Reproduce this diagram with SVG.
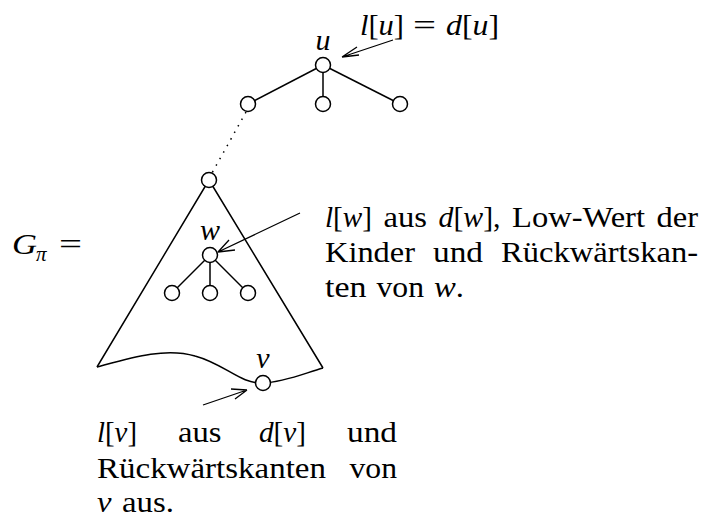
<svg xmlns="http://www.w3.org/2000/svg" width="705" height="519" viewBox="0 0 705 519">
<style>
text{font-family:"Liberation Serif","DejaVu Serif",serif;font-size:30px;fill:#000}
.i{font-style:italic}
.n{fill:#fff;stroke:#000;stroke-width:1.5}
.e{stroke:#000;stroke-width:1.5;fill:none}
.a{stroke:#000;stroke-width:1.3;fill:none}
</style>
<rect width="705" height="519" fill="#fff"/>
<g id="connectors">
<line class="e" x1="323" y1="65" x2="248" y2="104"/>
<line class="e" x1="323" y1="65" x2="323" y2="104"/>
<line class="e" x1="323" y1="65" x2="400" y2="104"/>
<line class="e" x1="246" y1="112" x2="212" y2="173" stroke-dasharray="1.5 6"/>
<line class="e" x1="210" y1="255" x2="172" y2="293"/>
<line class="e" x1="210" y1="255" x2="210" y2="293"/>
<line class="e" x1="210" y1="255" x2="248" y2="293"/>
<path class="e" d="M209 180 L97 367 M209 180 L323 368"/>
<path class="e" d="M97 367 C130 358,165 347,195 356 C225 364,240 384,263 383 C285 382,305 373,323 368"/>
<path class="a" d="M393 40 L342 57 M342 57 L357 47 M342 57 L359 55"/>
<path class="a" d="M300 213 L218 252 M218 252 L229 240 M218 252 L235 250"/>
<path class="a" d="M203 405 L247 390 M247 390 L231 389 M247 390 L235 399"/>
</g>
<g id="u"><circle class="n" cx="323" cy="65" r="7.5"/><text class="i" x="323" y="50" text-anchor="middle">u</text></g>
<g id="u1"><circle class="n" cx="248" cy="104" r="7.5"/></g>
<g id="u2"><circle class="n" cx="323" cy="104" r="7.5"/></g>
<g id="u3"><circle class="n" cx="400" cy="104" r="7.5"/></g>
<g id="top"><circle class="n" cx="209" cy="180" r="7.5"/></g>
<g id="w"><circle class="n" cx="210" cy="255" r="7.5"/><text class="i" x="210" y="240" text-anchor="middle">w</text></g>
<g id="w1"><circle class="n" cx="172" cy="293" r="7.5"/></g>
<g id="w2"><circle class="n" cx="210" cy="293" r="7.5"/></g>
<g id="w3"><circle class="n" cx="248" cy="293" r="7.5"/></g>
<g id="v"><circle class="n" cx="263" cy="383" r="7.5"/><text class="i" x="263" y="368" text-anchor="middle">v</text></g>
<g id="label-u">
<text x="360" y="35" textLength="44" lengthAdjust="spacingAndGlyphs"><tspan class="i">l</tspan>[<tspan class="i">u</tspan>]</text>
<text x="413" y="35" textLength="23" lengthAdjust="spacingAndGlyphs">=</text>
<text x="446" y="35" textLength="53" lengthAdjust="spacingAndGlyphs"><tspan class="i">d</tspan>[<tspan class="i">u</tspan>]</text>
</g>
<g id="label-G">
<text class="i" x="12" y="254" textLength="25" lengthAdjust="spacingAndGlyphs">G</text>
<text class="i" x="36" y="261" font-size="21" style="font-size:21px">π</text>
<text x="59" y="254" textLength="23" lengthAdjust="spacingAndGlyphs">=</text>
</g>
<g id="label-w">
<text x="325" y="227" textLength="47" lengthAdjust="spacingAndGlyphs"><tspan class="i">l</tspan>[<tspan class="i">w</tspan>]</text>
<text x="383.5" y="227" textLength="43.5" lengthAdjust="spacingAndGlyphs">aus</text>
<text x="438.5" y="227" textLength="62" lengthAdjust="spacingAndGlyphs"><tspan class="i">d</tspan>[<tspan class="i">w</tspan>],</text>
<text x="512" y="227" textLength="133" lengthAdjust="spacingAndGlyphs">Low-Wert</text>
<text x="656.5" y="227" textLength="41.5" lengthAdjust="spacingAndGlyphs">der</text>
<text x="325" y="262" textLength="90" lengthAdjust="spacingAndGlyphs">Kinder</text>
<text x="433" y="262" textLength="50" lengthAdjust="spacingAndGlyphs">und</text>
<text x="501" y="262" textLength="197" lengthAdjust="spacingAndGlyphs">Rückwärtskan-</text>
<text x="325" y="297" textLength="41.5" lengthAdjust="spacingAndGlyphs">ten</text>
<text x="376.5" y="297" textLength="47.5" lengthAdjust="spacingAndGlyphs">von</text>
<text x="434" y="297" textLength="30" lengthAdjust="spacingAndGlyphs"><tspan class="i">w</tspan>.</text>
</g>
<g id="label-v">
<text x="97" y="442" textLength="40" lengthAdjust="spacingAndGlyphs"><tspan class="i">l</tspan>[<tspan class="i">v</tspan>]</text>
<text x="178" y="442" textLength="43.5" lengthAdjust="spacingAndGlyphs">aus</text>
<text x="259" y="442" textLength="47" lengthAdjust="spacingAndGlyphs"><tspan class="i">d</tspan>[<tspan class="i">v</tspan>]</text>
<text x="347" y="442" textLength="50" lengthAdjust="spacingAndGlyphs">und</text>
<text x="97" y="478" textLength="229" lengthAdjust="spacingAndGlyphs">Rückwärtskanten</text>
<text x="349.5" y="478" textLength="47.5" lengthAdjust="spacingAndGlyphs">von</text>
<text class="i" x="97" y="512" textLength="14.5" lengthAdjust="spacingAndGlyphs">v</text>
<text x="122" y="512" textLength="52" lengthAdjust="spacingAndGlyphs">aus.</text>
</g>
</svg>
